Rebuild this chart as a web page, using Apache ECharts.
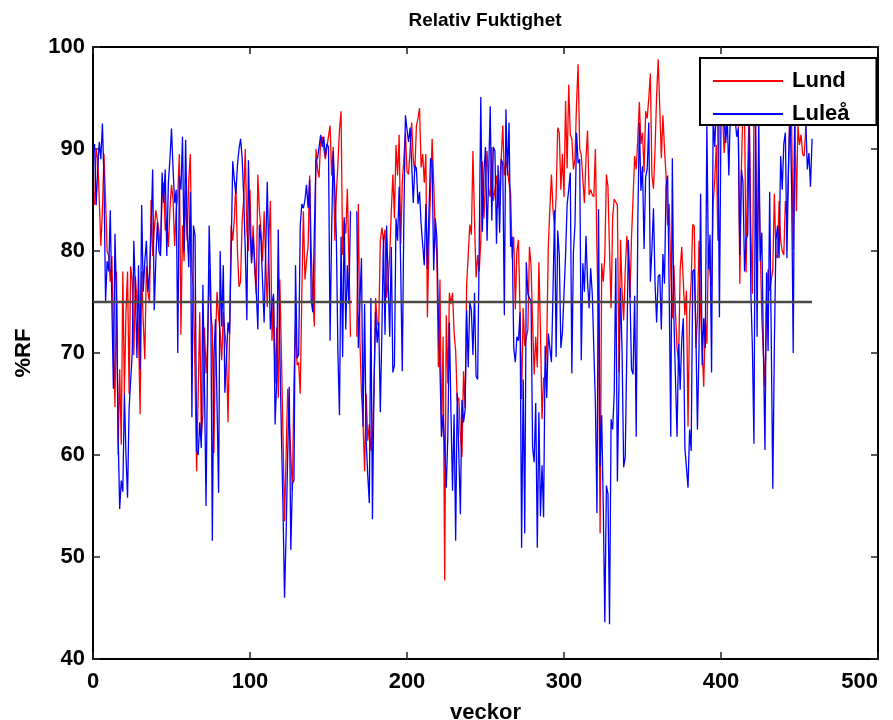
<!DOCTYPE html>
<html>
<head>
<meta charset="utf-8">
<script src="https://cdn.jsdelivr.net/npm/echarts@6/dist/echarts.min.js"></script>
<style>html,body{margin:0;padding:0;background:#fff}#c{width:893px;height:720px}</style>
</head>
<body>
<div id="c"></div>
<script>
// ---- data (weekly relative humidity, %RF), week 1..458 ----
const titleText = 'Relativ Fuktighet';
const xName = 'veckor';
const yName = '%RF';
const seriesNames = ['Lund', 'Luleå'];
const xTicks = [0, 100, 200, 300, 400, 500];
const yTicks = [40, 50, 60, 70, 80, 90, 100];
const meanRF = 75;
const meanSegments = [[0, 165], [168, 458]];

const lund = [
84.5, 90, 89, 85, 80.5, 84, 89.5, 85, 80, 79.5,
77, 79.5, 72, 64.7, 78, 60, 68.4, 61, 78, 66,
74, 78, 66, 78.5, 77, 69.8, 77.5, 75, 72, 64,
78, 73, 69.4, 78.5, 76, 75, 85, 79.5, 82, 84,
84, 82, 80, 85, 86.7, 82, 83, 80.4, 84, 86.5,
85, 80.5, 84, 85.5, 89.5, 71.8, 82.5, 79, 86, 81,
87, 89.5, 78, 76.5, 68, 58.4, 66, 74, 61.8, 64,
72.5, 68, 71, 78.2, 74, 72.5, 60.2, 71, 76, 73.5,
72, 69.3, 74, 72, 70.5, 63.2, 71.8, 82.5, 81, 83,
86.7, 80, 76.5, 77, 83, 85, 90, 82, 80, 86,
79, 82.5, 78, 75.8, 87.5, 84, 82, 79, 83.9, 79,
74.5, 81, 84.9, 71.2, 75.4, 67, 72.5, 65.6, 77.2, 70,
62, 53.5, 60, 66.5, 63.5, 60, 56.5, 67.4, 73, 68.8,
69.1, 66, 75.8, 83.9, 77.2, 79, 80.5, 87.4, 80, 75.4,
72.6, 90, 88, 87.2, 91, 91.2, 90, 89, 90.2, 90.3,
92.3, 87.4, 90.2, 81, 85.6, 88.5, 91.9, 93.7, 79.6, 83,
81.7, 86.1, 86, 71.6, null, null, null, 71.6, 84.6, 71.2,
66, 63.2, 58.4, 66, 61.4, 63, 60.4, 62, 66.3, 75.4,
73, 72.6, 81, 82.3, 81, 82.1, 75.4, 77, 79.6, 83.9,
87.5, 83.2, 90.4, 87.4, 91.4, 80.7, 86.7, 89, 91.6, 87.8,
87.5, 90, 92.6, 89, 87.8, 92.3, 93, 94, 88.2, 89.5,
86.7, 89.5, 73.5, 81, 86, 91, 86.7, 81.8, 79.6, 68.6,
77.2, 61.8, 71.6, 47.7, 73.7, 67, 75.9, 74.8, 75.9, 72,
70.2, 65.3, 65.6, 62, 59.8, 68.2, 64.6, 76.7, 79.6, 82.6,
81.6, 89.8, 83, 77.4, 79.6, 78, 81, 88.8, 83.2, 87,
89.8, 86, 85.3, 90.2, 84.9, 86, 87.4, 84.2, 86.5, 89.1,
92.3, 87.4, 88.8, 88, 86.7, 85.6, 79.3, 81.4, 74.3, 80,
81.1, 74, 65.5, 74.4, 70.7, 71.5, 72.3, 80.4, 78.6, 73,
67.9, 71.6, 68.6, 78.9, 72.3, 63.5, 67.5, 67.7, 70.9, 80.4,
84.2, 87.5, 84, 82.5, 85.3, 92.1, 91.6, 86, 89.5, 85.3,
94.7, 88.1, 96.3, 91.4, 91, 88, 89, 94.6, 98.3, 90,
89.4, 89.4, 84.7, 89, 91.8, 85.5, 86, 85.5, 85.3, 90,
80, 72.4, 52.3, 78.8, 77, 79.5, 87.5, 86.3, 80, 74.4,
83.3, 85.1, 84.8, 84.5, 68.1, 81.1, 76, 73.2, 78, 81.5,
79.5, 75.4, 81.3, 81.2, 89.3, 88, 91, 94.6, 90.5, 91.6,
87.7, 93.7, 93, 95, 97.4, 87.4, 86.1, 90, 95.3, 98.8,
94, 89.1, 93.3, 90, 87.4, 82.5, 84.6, 78, 73.4, 78.6,
74, 70.5, 69.1, 78.2, 80.4, 77, 73.7, 76.1, 62.8, 74,
77, 82.6, 82.4, 70.5, 73.4, 81, 74, 70.5, 66.7, 73.4,
70.9, 80.4, 77.9, 76.5, 84.6, 87, 90.4, 81, 95, 94,
93.5, 89.6, 92, 95.5, 93, 94, 96, 94.5, 93.5, 95,
92.3, 76.8, 88, 94.5, 93.5, 77.9, 88, 94, 82, 75.8,
93.5, 92.5, 78.2, 88.2, 80.4, 73.4, 70, 66.7, 75.4, 78.2,
76.1, 76.1, 78.2, 85.6, 79.6, 79.3, 84.9, 81, 80, 79.6,
84.9, 83.2, 88, 95, 92.3, 80.2, 94, 83.9, 92.3, 90.4,
91.4, 89.5, 89.3, 92.1, 94, 93.5, 92.8, 93
];

const lulea = [
90.5, 84.5, 88, 90.7, 89, 92.5, 87, 75, 79, 78,
84, 75, 66.5, 81.7, 75, 62, 54.7, 57.5, 56.4, 66,
60, 55.8, 64.6, 64.6, 70, 81, 76, 69.5, 78.6, 68.4,
84.5, 76, 79, 81, 76, 77.9, 82, 88, 74.2, 79,
82.8, 80, 79.5, 87.7, 84.7, 88, 79.5, 86.7, 89, 92,
88, 84.7, 86, 70, 87.4, 86, 91.2, 80, 90.9, 82,
78.4, 85.8, 63.7, 82.5, 81.5, 60.4, 60, 63.2, 60.7, 76.7,
67, 55, 70, 82.5, 76.1, 51.6, 69.5, 73.3, 65, 56.3,
80, 72.6, 78.6, 66.1, 66.1, 73, 71.9, 80, 88.8, 87,
85.6, 88.4, 90, 91, 89.1, 85.3, 80, 73.2, 88.9, 82.1,
78.8, 81.4, 79, 76, 72.3, 82.6, 81, 80.9, 73, 80,
86.8, 79, 72.3, 74.8, 75.8, 63, 67.4, 82.1, 70.2, 62.1,
55, 46, 52.3, 60, 66.7, 50.7, 57.2, 57.5, 78.6, 69.5,
69.8, 82.5, 84.6, 84.2, 85, 86.5, 84.2, 87, 75.1, 74,
82, 88.9, 89.1, 90.2, 91.4, 90.2, 91.2, 89.3, 90.5, 90.2,
71.2, 82, 89.8, 86, 81.4, 70, 63.9, 81.4, 69.6, 83.3,
72.3, 78.6, 74.8, 83.9, null, null, null, 83.9, 70.5, 75,
79.3, 62.8, 74.8, 61.4, 58, 55.3, 75.4, 53.7, 67, 74,
71, 73, 64.2, 72, 81.4, 71.8, 82.5, 77, 71.6, 80.4,
68.1, 68.8, 83.2, 81, 86.3, 78.2, 68.2, 83.2, 93.3, 91.9,
90.7, 92.1, 88.4, 84.7, 88.4, 88.1, 84.6, 85.8, 82.6, 82.6,
78.6, 84.6, 78.2, 84, 89.1, 88.8, 78.1, 83.2, 81.4, 73.7,
68.4, 61.8, 64, 60.7, 56.8, 61.8, 73, 64.2, 56.5, 64,
51.6, 66.1, 60.2, 54.2, 65.4, 63.2, 64.4, 74.2, 68.6, 75,
74.2, 69.8, 75.9, 67.7, 67.4, 80.4, 95.1, 81.9, 87.7, 90.2,
81, 87.4, 94.2, 83, 90.2, 89.8, 80.7, 88.4, 81.8, 89,
88.6, 73.7, 93.9, 87.4, 92.6, 80.4, 81.4, 70.5, 69.1, 71.6,
71.2, 74, 50.9, 67.4, 52.3, 78.9, 75.8, 75.4, 75.1, 60.7,
59.3, 65.1, 50.9, 64.2, 54, 59, 53.9, 70.7, 65.6, 71.9,
70.5, 69.1, 76, 84, 69.6, 82, 79.6, 70.5, 72, 71.9,
79.6, 84.6, 86, 87.7, 68, 79.9, 82.6, 91.6, 88.6, 89,
69.3, 78.8, 76, 81.5, 77, 74.4, 78.3, 75.8, 75.8, 65,
54.3, 84.1, 58.9, 63.9, 55, 43.6, 57, 56.2, 43.4, 63.5,
62.5, 66.1, 79.3, 57.4, 66.9, 76.4, 70, 58.8, 59.8, 70,
81.1, 76, 68.4, 67.9, 75.6, 61.8, 82.6, 92.6, 85.9, 88.3,
80.2, 87.3, 88, 92.6, 77, 80.2, 84.2, 76.8, 73, 77.5,
77.7, 72.3, 79.7, 76.8, 86.3, 87.4, 76.1, 61.8, 89.1, 73.4,
67.5, 61.8, 70.9, 66.4, 71.3, 73.4, 60.7, 60.7, 56.8, 62.5,
60.4, 78, 78.2, 72, 62.5, 70.5, 85.6, 68.8, 73.4, 70.5,
92.5, 78.2, 81.6, 68.1, 93, 90.2, 94, 92.8, 73.5, 93,
94.5, 92.6, 90.6, 93, 87.4, 94, 93.5, 95, 93, 91.2,
92, 79.6, 88, 86.7, 78, 81.2, 81.6, 93, 76.1, 70.5,
61.1, 93, 71.6, 93.5, 79, 81.8, 70.2, 60.5, 77.9, 70.2,
85.8, 71.6, 56.7, 70.9, 81, 82.5, 79.3, 89.3, 86, 90.5,
91.6, 79.3, 88.4, 94, 86, 70, 94, 95, 93.5, 94,
93, 94, 93.2, 92.8, 88, 89.6, 86.3, 91
];

// ---- chart ----
const FONT = '"Liberation Sans", Arial, Helvetica, sans-serif';
const toPairs = arr => arr.map((v, i) => [i + 1, v == null ? '-' : v]);
const meanData = [];
meanSegments.forEach((s, k) => {
  if (k > 0) meanData.push(['-', '-']);
  meanData.push([s[0], meanRF], [s[1], meanRF]);
});

const labelStyle = {fontSize: 22, fontWeight: 'bold', color: '#000', fontFamily: FONT};
const tick = {show: true, inside: true, length: 7, lineStyle: {color: '#222', width: 1.5}};
const line = {show: true, onZero: false, lineStyle: {color: '#000', width: 2}};

const chart = echarts.init(document.getElementById('c'), null, {renderer: 'canvas'});
chart.setOption({
  animation: false,
  backgroundColor: '#fff',
  graphic: [{
    type: 'text', x: 485, y: 11, z: 10,
    style: {text: titleText, font: 'bold 19px ' + FONT, fill: '#000', textAlign: 'center', textVerticalAlign: 'top'}
  }],
  grid: {left: 93, right: 15, top: 47, bottom: 61, containLabel: false, outerBoundsMode: 'none'},
  legend: {
    data: seriesNames.map(n => ({name: n, icon: 'rect'})),
    orient: 'vertical', left: 700, top: 58,
    itemWidth: 70, itemHeight: 2, itemGap: 11,
    padding: [12, 27, 0, 13],
    borderColor: '#000', borderWidth: 2, backgroundColor: '#fff', borderRadius: 0,
    textStyle: {fontSize: 22, fontWeight: 'bold', color: '#000', fontFamily: FONT, padding: [0, 0, 0, 4]}
  },
  xAxis: [{
    type: 'value', min: xTicks[0], max: xTicks[xTicks.length - 1], interval: xTicks[1] - xTicks[0],
    position: 'bottom', axisLine: line, axisTick: tick, splitLine: {show: false},
    axisLabel: Object.assign({margin: 12, alignMaxLabel: 'right'}, labelStyle),
    name: xName, nameLocation: 'middle', nameGap: 43,
    nameTextStyle: {fontSize: 22, fontWeight: 'bold', color: '#000', fontFamily: FONT}
  }, {
    type: 'value', min: xTicks[0], max: xTicks[xTicks.length - 1], interval: xTicks[1] - xTicks[0],
    position: 'top', axisLine: line, axisTick: tick, splitLine: {show: false}, axisLabel: {show: false}
  }],
  yAxis: [{
    type: 'value', min: yTicks[0], max: yTicks[yTicks.length - 1], interval: yTicks[1] - yTicks[0],
    position: 'left', axisLine: line, axisTick: tick, splitLine: {show: false},
    axisLabel: Object.assign({margin: 8}, labelStyle),
    name: yName, nameLocation: 'middle', nameGap: 58, nameRotate: 90,
    nameTextStyle: {fontSize: 22, fontWeight: 'bold', color: '#000', fontFamily: FONT}
  }, {
    type: 'value', min: yTicks[0], max: yTicks[yTicks.length - 1], interval: yTicks[1] - yTicks[0],
    position: 'right', axisLine: line, axisTick: tick, splitLine: {show: false}, axisLabel: {show: false}
  }],
  series: [{
    name: seriesNames[0], type: 'line', data: toPairs(lund), symbol: 'none',
    lineStyle: {color: '#ff0000', width: 1.3}, itemStyle: {color: '#ff0000'},
    connectNulls: false, z: 2, emphasis: {disabled: true}
  }, {
    name: seriesNames[1], type: 'line', data: toPairs(lulea), symbol: 'none',
    lineStyle: {color: '#0000ff', width: 1.3}, itemStyle: {color: '#0000ff'},
    connectNulls: false, z: 3, emphasis: {disabled: true}
  }, {
    name: 'medel', type: 'line', data: meanData, symbol: 'none',
    lineStyle: {color: '#4a4a42', width: 2.5}, itemStyle: {color: '#4a4a42'},
    connectNulls: false, z: 4, emphasis: {disabled: true}
  }]
});
</script>
</body>
</html>
